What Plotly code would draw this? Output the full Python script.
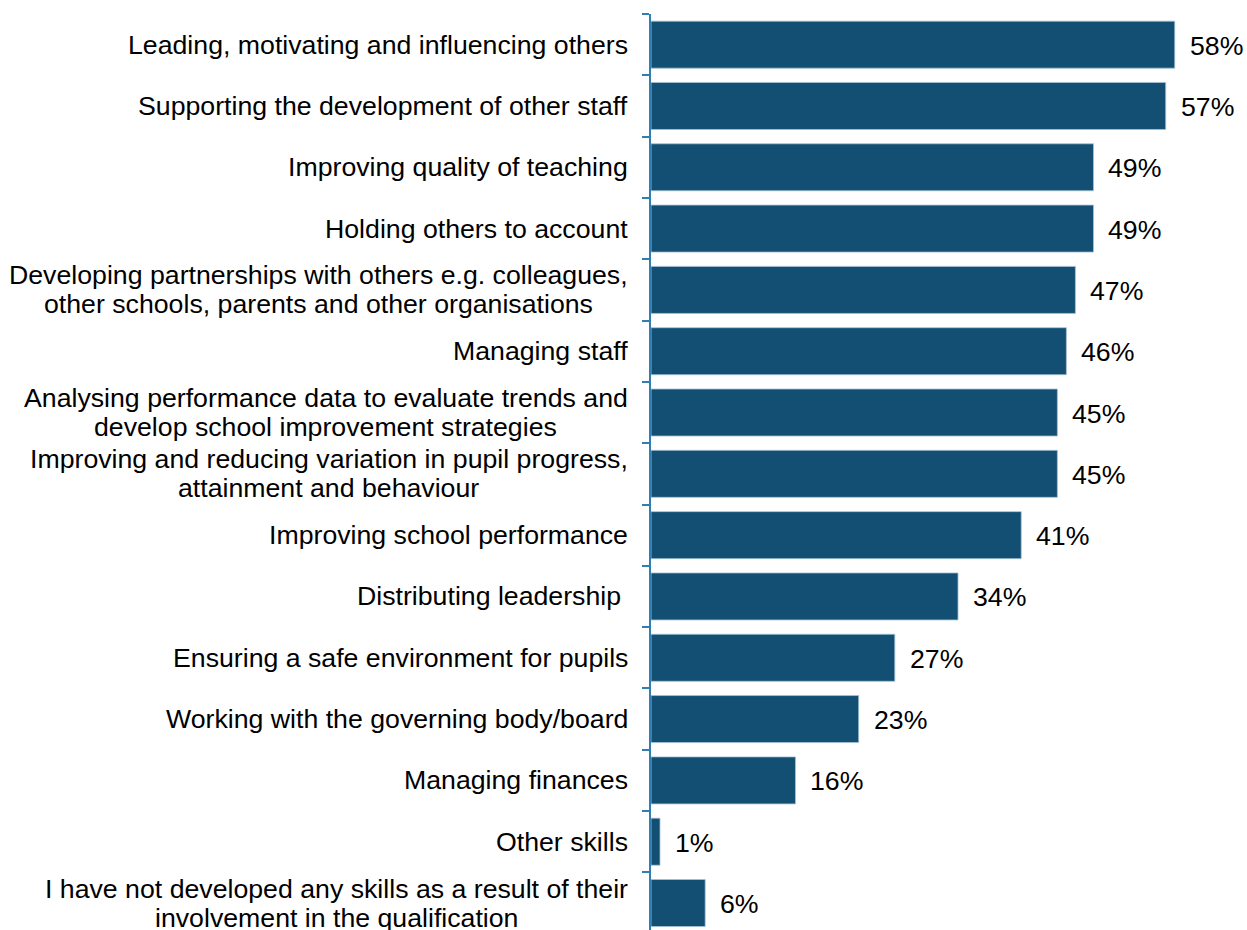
import plotly.graph_objects as go

# Skills developed through the qualification (share of respondents, %)
skills = [
    "Leading, motivating and influencing others",
    "Supporting the development of other staff",
    "Improving quality of teaching",
    "Holding others to account",
    "Developing partnerships with others e.g. colleagues,<br>other schools, parents and other organisations",
    "Managing staff",
    "Analysing performance data to evaluate trends and<br>develop school improvement strategies",
    "Improving and reducing variation in pupil progress,<br>attainment and behaviour",
    "Improving school performance",
    "Distributing leadership\u00a0",
    "Ensuring a safe environment for pupils",
    "Working with the governing body/board",
    "Managing finances",
    "Other skills",
    "I have not developed any skills as a result of their<br>involvement in the qualification",
]
percent = [58, 57, 49, 49, 47, 46, 45, 45, 41, 34, 27, 23, 16, 1, 6]

BAR = "#124f72"
AXIS = "#2f7fb5"
FONT = "Liberation Sans, Arial, sans-serif"
FONT_SIZE = 26.7
LABEL_GAP = 21      # px between label block and the axis line
LINE_OFFSET = 14.5  # px from category centre to each line of a two-line label

# Arial / Liberation Sans advance widths (1/1000 em), used to centre the
# second line of a wrapped label under the first one
_W = {c: 556 for c in "abdeghnopqu"}
_W.update({"c": 500, "f": 278, "i": 222, "j": 222, "k": 500, "l": 222,
           "m": 833, "r": 333, "s": 500, "t": 278, "v": 500, "w": 722,
           "x": 500, "y": 500, "z": 500, " ": 278, ",": 278, ".": 278,
           "/": 278, "A": 667, "D": 722, "E": 667, "H": 722, "I": 278,
           "L": 556, "M": 833, "O": 778, "S": 667, "W": 944})


def text_width(s, size):
    return sum(_W.get(ch, 556) for ch in s) / 1000.0 * size


cat_ids = [f"c{i}" for i in range(len(skills))]

fig = go.Figure(
    go.Bar(
        x=percent,
        y=cat_ids,
        orientation="h",
        marker=dict(color=BAR, line=dict(color="#a9c3d6", width=0.8)),
        hoverinfo="skip",
    )
)

label_font = dict(family=FONT, size=FONT_SIZE, color="#000000")
annotations = []
for cid, label, val in zip(cat_ids, skills, percent):
    lines = label.split("<br>")
    if len(lines) == 1:
        annotations.append(dict(
            x=0, xref="paper", y=cid, yref="y",
            text=label, showarrow=False,
            xanchor="right", yanchor="middle",
            xshift=-LABEL_GAP, font=label_font,
        ))
    else:
        first, second = lines
        # first (longer) line flush against the axis
        annotations.append(dict(
            x=0, xref="paper", y=cid, yref="y",
            text=first, showarrow=False,
            xanchor="right", yanchor="middle",
            xshift=-LABEL_GAP, yshift=LINE_OFFSET, font=label_font,
        ))
        # second line centred beneath the first
        annotations.append(dict(
            x=0, xref="paper", y=cid, yref="y",
            text=second, showarrow=False,
            xanchor="center", yanchor="middle",
            xshift=-LABEL_GAP - 2 - text_width(first, FONT_SIZE) / 2,
            yshift=-LINE_OFFSET, font=label_font,
        ))
    # value label beyond the bar end
    annotations.append(dict(
        x=val, xref="x", y=cid, yref="y",
        text=f"{val}%", showarrow=False,
        xanchor="left", yanchor="middle",
        xshift=13, yshift=-1, font=label_font,
    ))

fig.update_layout(
    width=1247,
    height=930,
    margin=dict(l=651, r=0, t=14, b=0),
    paper_bgcolor="white",
    plot_bgcolor="white",
    bargap=0.233,
    showlegend=False,
    annotations=annotations,
    xaxis=dict(
        range=[0, 66],
        visible=False,
    ),
    yaxis=dict(
        type="category",
        categoryorder="array",
        categoryarray=cat_ids,
        range=[14.44, -0.5],
        showticklabels=False,
        showline=True,
        linecolor=AXIS,
        linewidth=1.5,
        ticks="outside",
        tickson="boundaries",
        ticklen=7,
        tickcolor=AXIS,
        tickwidth=1.5,
        showgrid=False,
        zeroline=False,
    ),
)

fig.write_html("out.html")
